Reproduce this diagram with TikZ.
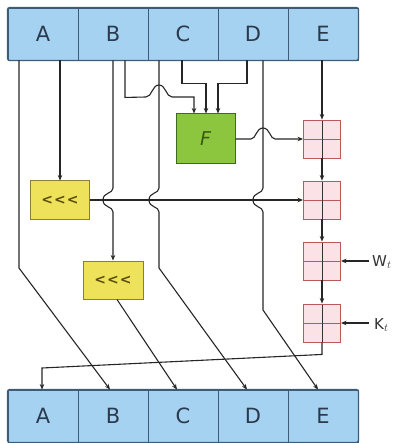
\documentclass[tikz,border=0pt]{standalone}
\usepackage{fontspec}
\setmainfont{DejaVu Sans}
\usetikzlibrary{arrows.meta}
\definecolor{regfill}{HTML}{A6D2F2}
\definecolor{regline}{HTML}{3E5C78}
\definecolor{regtext}{HTML}{2A3A4C}
\definecolor{ffill}{HTML}{8CC63F}
\definecolor{fline}{HTML}{3F6B1E}
\definecolor{ftext}{HTML}{3A5A12}
\definecolor{yfill}{HTML}{EEE25A}
\definecolor{yline}{HTML}{8C8030}
\definecolor{ytext}{HTML}{5A4C06}
\definecolor{addfill}{HTML}{FBE2E6}
\definecolor{addline}{HTML}{B85A5A}
\newcommand{\rotsym}{\char"3C\kern1pt\char"3C\kern1pt\char"3C}
\begin{document}
\begin{tikzpicture}[x=1pt,y=-1pt,
  reg/.style={draw=regline, fill=regfill, line width=0.9pt, minimum width=70pt, minimum height=52pt, inner sep=0pt, font=\fontsize{21}{21}\selectfont, text=regtext},
  fbox/.style={draw=fline, fill=ffill, line width=1pt, minimum width=59pt, minimum height=50pt, inner sep=0pt, font=\fontsize{19}{19}\selectfont\itshape, text=ftext},
  rotbox/.style={draw=yline, fill=yfill, line width=1pt, minimum width=59pt, minimum height=38pt, inner sep=0pt, font=\fontsize{14}{14}\selectfont\bfseries, text=ytext},
  adder/.style={draw=addline, fill=addfill, line width=0.9pt, minimum width=37pt, minimum height=38pt, inner sep=0pt,
    path picture={
      \draw[addline, line width=0.9pt] (path picture bounding box.west) -- (path picture bounding box.east);
      \draw[black!80, line width=1pt] (path picture bounding box.north) -- (path picture bounding box.south);}},
  flow/.style={draw=black!85, line width=1.1pt},
  arr/.style={flow, -{Stealth[length=5.5pt,width=4.5pt]}},
  lbl/.style={inner sep=0pt, font=\fontsize{15}{15}\selectfont, text=black!80}
]
\useasboundingbox (0,0) rectangle (393,443);
% top register
\node[reg] (tA) at (43,34) {A};
\node[reg] (tB) at (113,34) {B};
\node[reg] (tC) at (183,34) {C};
\node[reg] (tD) at (253,34) {D};
\node[reg] (tE) at (323,34) {E};
\draw[regline, line width=1.3pt, rounded corners=2pt] (tA.north west) rectangle (tE.south east);
% bottom register
\node[reg] (bA) at (43,416) {A};
\node[reg] (bB) at (113,416) {B};
\node[reg] (bC) at (183,416) {C};
\node[reg] (bD) at (253,416) {D};
\node[reg] (bE) at (323,416) {E};
\draw[regline, line width=1.3pt, rounded corners=2pt] (bA.north west) rectangle (bE.south east);
% function and rotations
\node[fbox] (F) at (205.5,139) {F};
\node[rotbox] (rotA) at (60,200) {\rotsym};
\node[rotbox, minimum width=60pt] (rotB) at (113,280) {\rotsym};
% adders
\node[adder] (add1) at (322,139) {};
\node[adder] (add2) at (322,200) {};
\node[adder] (add3) at (322,261) {};
\node[adder] (add4) at (322,323) {};
% inputs W and K
\coordinate (w) at (369,261);
\coordinate (k) at (369,323);
\node[lbl, anchor=west] (wl) at (372,262) {W$_t$};
\node[lbl, anchor=west] (kl) at (374,325) {K$_t$};
\draw[arr] (w) -- (add3.east);
\draw[arr] (k) -- (add4.east);
% A -> B
\draw[arr] ([xshift=-24pt]tA.south) -- (19,268) -- ([xshift=-3pt]bB.north);
% A -> rotA -> add2
\draw[arr] ([xshift=17pt]tA.south) -- (rotA.north);
\draw[arr] (rotA.east) -- (add2.west);
% B -> rotB -> C (with hop over the rotA line)
\draw[arr] (tB.south) -- (113,188) .. controls (113,194) and (103,192) .. (103,200) .. controls (103,208) and (113,206) .. (113,212) -- (rotB.north);
\draw[arr] ([xshift=4pt]rotB.south) -- ([xshift=-6pt]bC.north);
% B -> F (hop over C->D line)
\draw[arr] ([xshift=12pt]tB.south) -- ++(0,37) -- (146,97) .. controls (152,97) and (152,85) .. (159,85) .. controls (166,85) and (166,97) .. (172,97) -| ([xshift=-11.5pt]F.north);
% C -> F, D -> F
\draw[arr] ([xshift=-1pt]tC.south) -- ++(0,23) -| ([xshift=0.5pt]F.north);
\draw[arr] ([xshift=-6pt]tD.south) -- ++(0,23) -| ([xshift=12.5pt]F.north);
% C -> D
\draw[arr] ([xshift=-24pt]tC.south) -- (159,188) .. controls (159,194) and (149,192) .. (149,200) .. controls (149,208) and (159,206) .. (159,212) -- (159,268) -- ([xshift=-6pt]bD.north);
% D -> E
\draw[arr] ([xshift=10pt]tD.south) -- (263,188) .. controls (263,194) and (253,192) .. (253,200) .. controls (253,208) and (263,206) .. (263,212) -- (263,310) -- ([xshift=-5pt]bE.north);
% F -> add1 (hop over D->E line)
\draw[arr] (F.east) -- (251,139) .. controls (256,139) and (256,128) .. (263,128) .. controls (270,128) and (270,139) .. (275,139) -- (add1.west);
% E -> adder chain
\draw[arr] (add1.north |- tE.south) -- (add1.north);
\draw[arr] (add1.south) -- (add2.north);
\draw[arr] (add2.south) -- (add3.north);
\draw[arr] (add3.south) -- (add4.north);
\draw[arr] (add4.south) -- ++(0,12) -- (42,368) -- ([xshift=-1pt]bA.north);
\end{tikzpicture}
\end{document}
